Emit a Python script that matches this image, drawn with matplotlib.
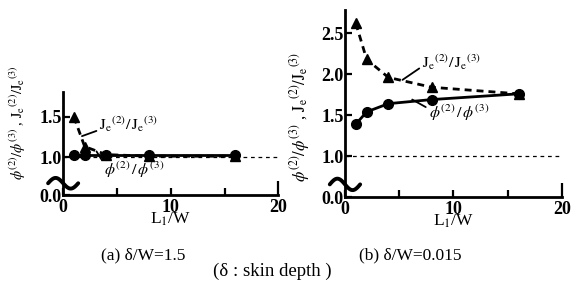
import numpy as np
import matplotlib.pyplot as plt

plt.rcParams['font.family'] = ['Liberation Serif', 'DejaVu Serif']
plt.rcParams['mathtext.fontset'] = 'stix'

# L1/W values
L1W = [1, 2, 4, 8, 16]

# (a) delta/W = 1.5
jo_a = [1.50, 1.13, 1.03, 1.01, 1.01]
phi_a = [1.02, 1.02, 1.02, 1.02, 1.02]

# (b) delta/W = 0.015
jo_b = [2.62, 2.18, 1.96, 1.84, 1.76]
phi_b = [1.39, 1.54, 1.64, 1.69, 1.76]

ylab = r"$\phi^{(2)}/\phi^{(3)}$ , $\mathrm{J_e}^{(2)}/\mathrm{J_e}^{(3)}$"
jo_txt = r"$\mathrm{J_e}^{(2)}/\,\mathrm{J_e}^{(3)}$"
phi_txt = r"$\phi^{(2)}\,/\,\phi^{(3)}$"

fig = plt.figure(figsize=(5.74, 2.84), dpi=100)
ax1 = fig.add_axes([0.110, 0.313, 0.375, 0.363])
ax2 = fig.add_axes([0.601, 0.306, 0.378, 0.658])


def style(ax, ylo, yhi, yticks, brk_y):
    ax.set_xlim(0, 20)
    ax.set_ylim(ylo, yhi)
    for s in ['top', 'right']:
        ax.spines[s].set_visible(False)
    for s in ['left', 'bottom']:
        ax.spines[s].set_linewidth(2)
    ax.set_xticks([0, 10, 20])
    ax.set_xticks([5, 15], minor=True)
    ax.set_xticklabels(['0', '10', '20'])
    ax.set_yticks([ylo] + yticks)
    ax.set_yticklabels(['0.0'] + ['%.1f' % t for t in yticks])
    ax.tick_params(axis='x', pad=3)
    ax.tick_params(axis='y', pad=1)
    ax.tick_params(direction='in', length=5, width=1.6, labelsize=13)
    ax.tick_params(which='minor', direction='in', length=5, width=1.6)
    for lab in ax.get_xticklabels() + ax.get_yticklabels():
        lab.set_fontweight('bold')
    ax.xaxis.get_major_ticks()[-1].tick1line.set_markersize(10)
    ax.set_xlabel(r"L$_1$/W", fontsize=12.5, labelpad=-4)
    ax.axhline(1.0, color='black', lw=0.9, ls=(0, (3, 3)), zorder=1)
    # broken axis symbol
    t = np.linspace(0, 1, 40)
    xs = -0.07 + 0.14 * t
    ys = brk_y + brk_y * 0.45 * np.sin(2 * np.pi * t)
    ax.plot(xs, ys, transform=ax.transAxes, color='black', lw=2.8,
            clip_on=False, solid_capstyle='round')


style(ax1, 0.525, 1.81, [1.0, 1.5], 0.115)
style(ax2, 0.5, 2.78, [1.0, 1.5, 2.0, 2.5], 0.068)

for ax, jo, phi in [(ax1, jo_a, phi_a), (ax2, jo_b, phi_b)]:
    ax.plot(L1W, jo, color='black', lw=2, ls=(0, (2.5, 1.8)),
            marker='^', ms=7.5, zorder=3)
    ax.plot(L1W, phi, color='black', lw=2, ls='-',
            marker='o', ms=7, zorder=4)

ax1.set_ylabel(ylab, fontsize=10.5)
ax1.yaxis.set_label_coords(-0.165, 0.7)
ax2.set_ylabel(ylab, fontsize=12)
ax2.yaxis.set_label_coords(-0.15, 0.43)

lead = dict(arrowstyle='-', lw=1.3, color='black', shrinkA=0, shrinkB=0)
ax1.annotate(jo_txt, xy=(1.75, 1.26), xytext=(3.35, 1.41), fontsize=11.5,
             va='center', ha='left',
             arrowprops=dict(relpos=(0, 0.2), **lead))
ax1.annotate(phi_txt, xy=(3.1, 1.07), xytext=(3.8, 0.84), fontsize=11.5,
             va='center', ha='left',
             arrowprops=dict(relpos=(0, 0.8), **lead))
ax2.annotate(jo_txt, xy=(5.3, 1.93), xytext=(7.1, 2.14), fontsize=11.5,
             va='center', ha='left',
             arrowprops=dict(relpos=(0, 0.3), **lead))
ax2.annotate(phi_txt, xy=(6.2, 1.69), xytext=(7.7, 1.53), fontsize=11.5,
             va='center', ha='left',
             arrowprops=dict(relpos=(0, 0.7), **lead))

fig.text(143 / 574, 1 - 255 / 284, "(a) δ/W=1.5", ha='center', va='center',
         fontsize=12.5)
fig.text(410 / 574, 1 - 255 / 284, "(b) δ/W=0.015", ha='center', va='center',
         fontsize=12.5)
fig.text(272 / 574, 1 - 271 / 284, "(δ : skin depth )", ha='center',
         va='center', fontsize=13.5)

fig.savefig('out.png', dpi=100)
